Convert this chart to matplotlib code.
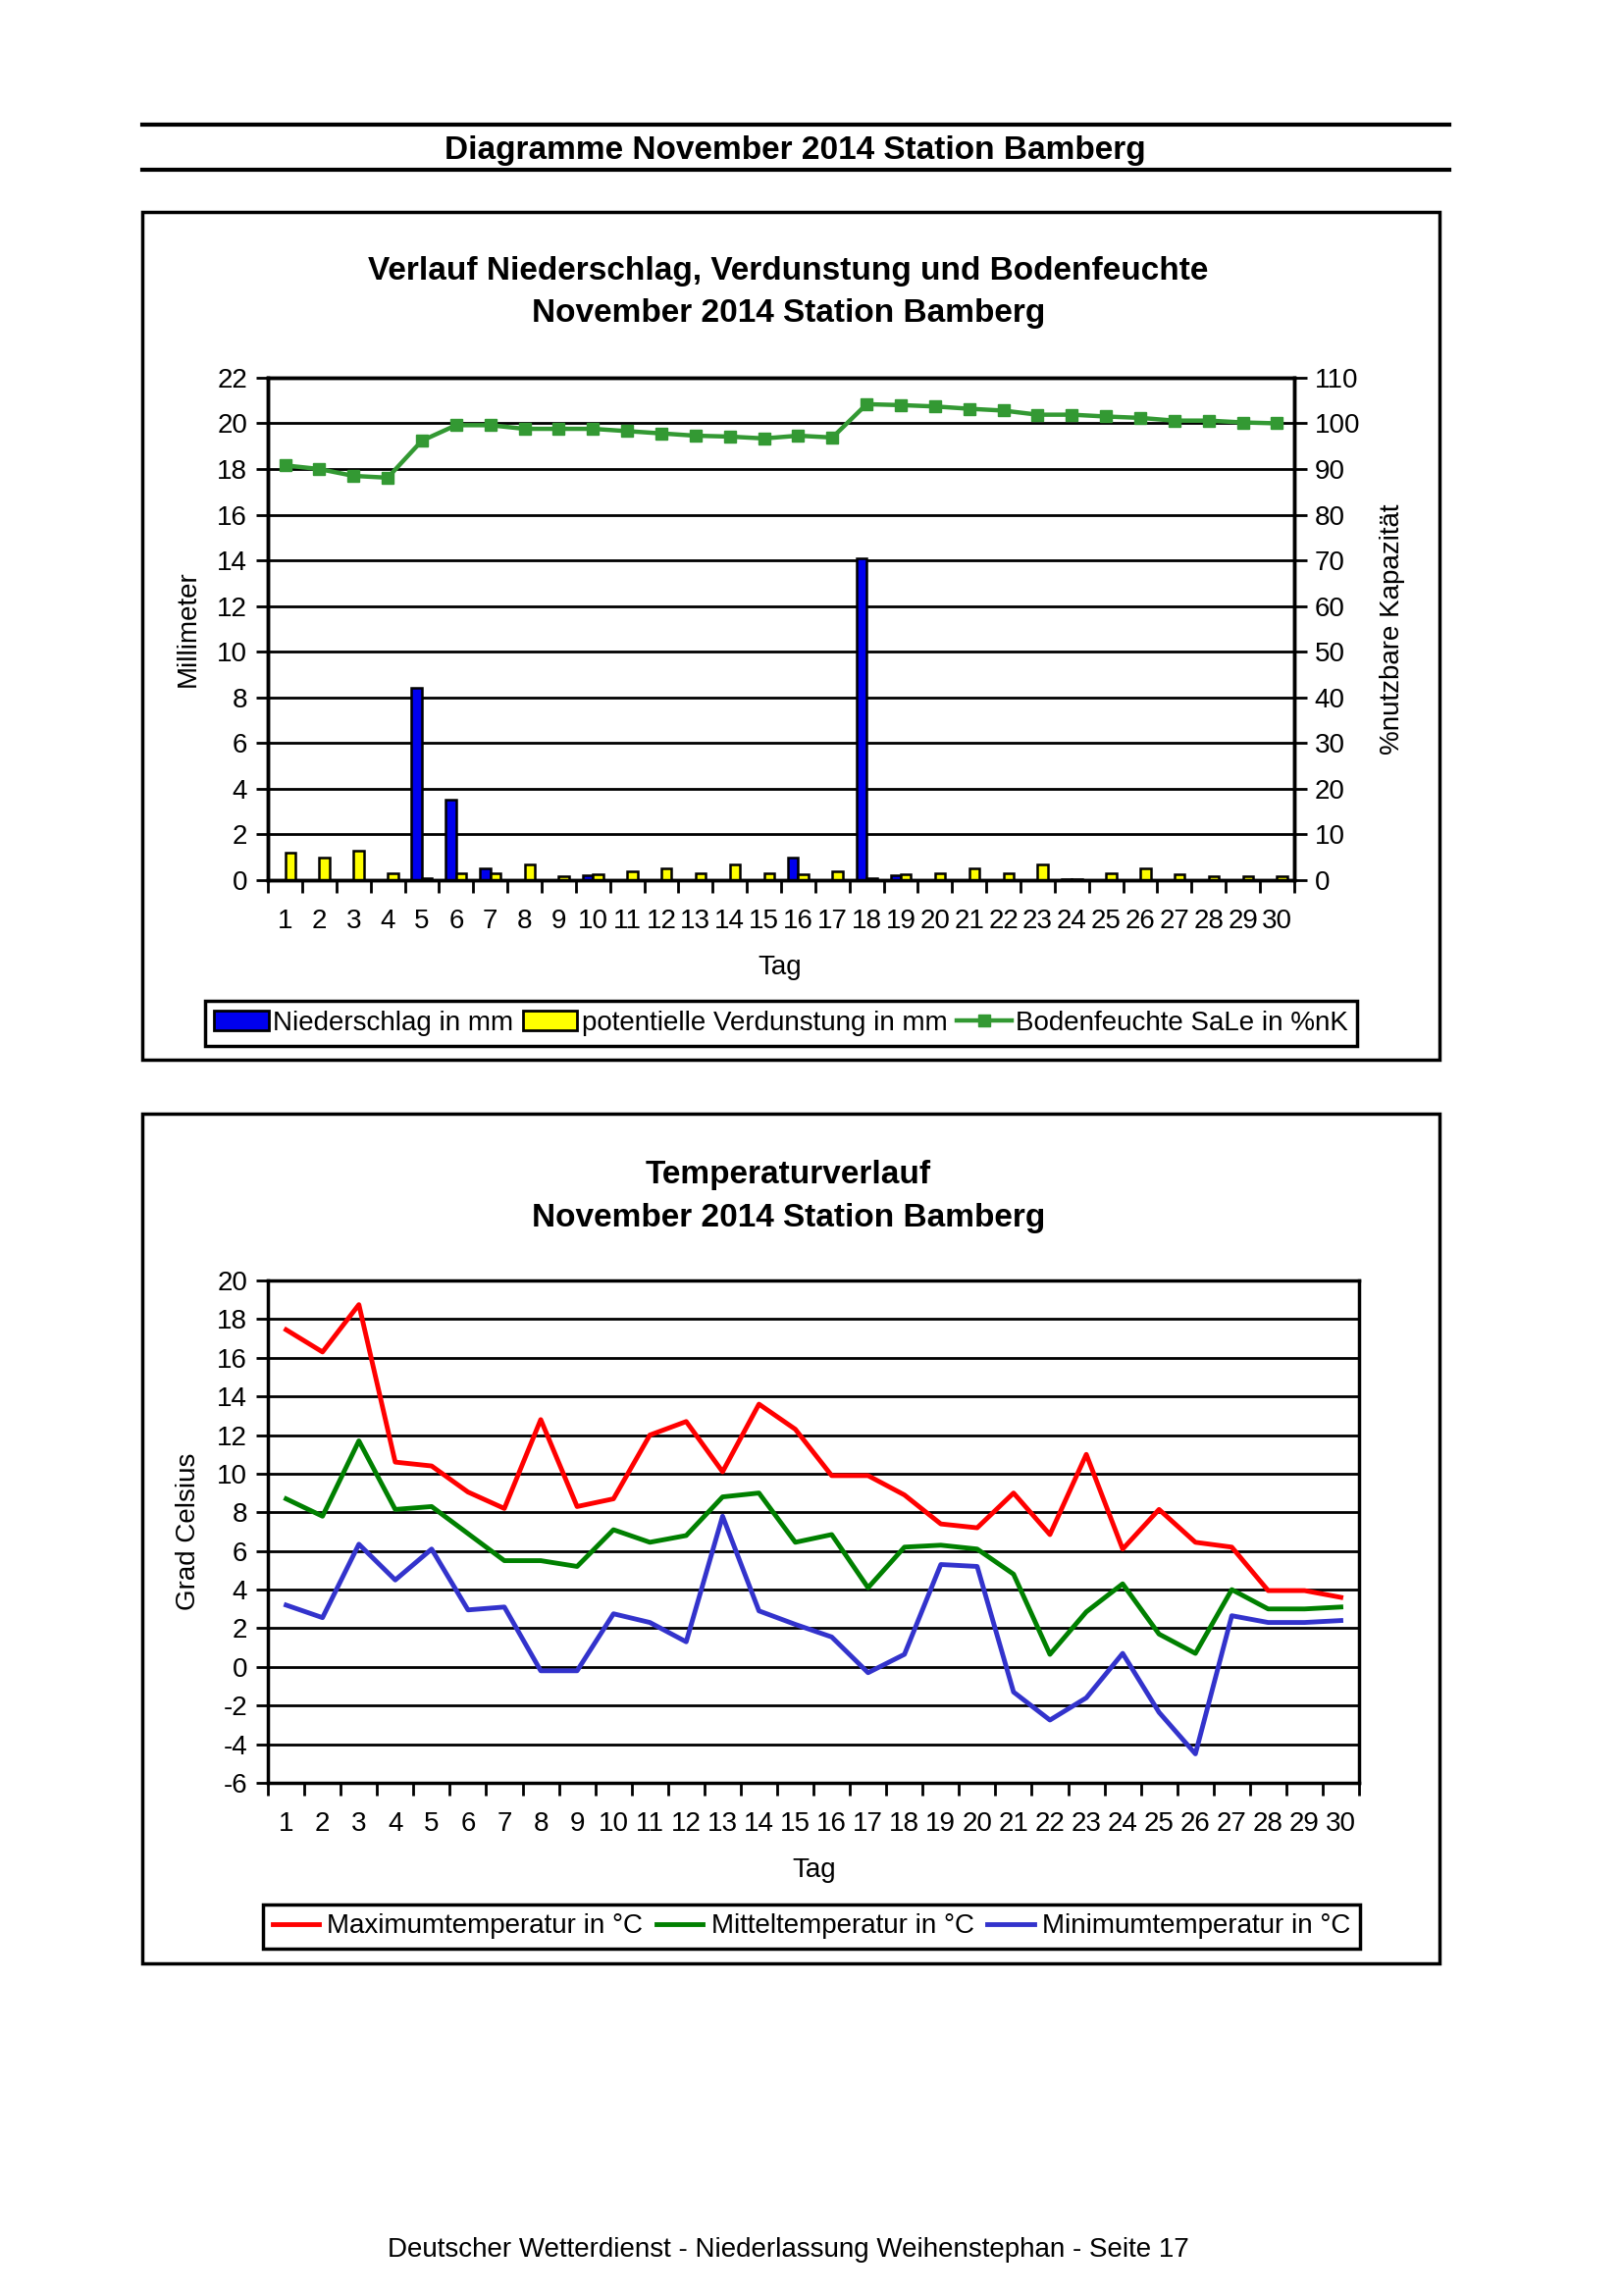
import matplotlib
matplotlib.use('Agg')
import matplotlib.pyplot as plt
from matplotlib.patches import Rectangle, Patch
from matplotlib.lines import Line2D
from matplotlib.ticker import FixedLocator
import numpy as np

plt.rcParams['font.family'] = ['Liberation Sans', 'DejaVu Sans']
plt.rcParams['axes.unicode_minus'] = False

days = list(range(1, 31))
day_labels = [str(d) for d in days]

niederschlag = [0, 0, 0, 0, 8.4, 3.5, 0.5, 0, 0, 0.2, 0, 0, 0, 0, 0, 1.0, 0, 14.1, 0.2, 0,
                0, 0, 0, 0.05, 0, 0, 0, 0, 0, 0]
verdunstung = [1.2, 1.0, 1.3, 0.3, 0.1, 0.3, 0.3, 0.7, 0.15, 0.25, 0.4, 0.5, 0.3, 0.7, 0.3,
               0.25, 0.4, 0.1, 0.25, 0.3, 0.5, 0.3, 0.7, 0.05, 0.3, 0.5, 0.25, 0.15, 0.15, 0.15]
bodenfeuchte = [90.8, 90.0, 88.5, 88.1, 96.2, 99.6, 99.6, 98.8, 98.8, 98.8, 98.3, 97.8, 97.3,
                97.1, 96.7, 97.3, 96.9, 104.2, 104.0, 103.7, 103.2, 102.8, 101.9, 101.9,
                101.5, 101.2, 100.6, 100.6, 100.2, 100.0]

tmax = [17.45, 16.3, 18.75, 10.6, 10.4, 9.05, 8.2, 12.8, 8.3, 8.7, 12.0, 12.7, 10.1, 13.6, 12.3,
        9.9, 9.9, 8.9, 7.4, 7.2, 9.0, 6.85, 11.0, 6.1, 8.15, 6.45, 6.2, 3.95, 3.95, 3.6]
tmit = [8.7, 7.8, 11.7, 8.15, 8.3, 6.9, 5.5, 5.5, 5.2, 7.1, 6.45, 6.8, 8.8, 9.0, 6.45, 6.85,
        4.1, 6.2, 6.3, 6.1, 4.8, 0.65, 2.85, 4.3, 1.7, 0.7, 4.0, 3.0, 3.0, 3.1]
tmin = [3.2, 2.55, 6.35, 4.5, 6.1, 2.95, 3.1, -0.2, -0.2, 2.75, 2.3, 1.3, 7.8, 2.9, 2.2, 1.55,
        -0.3, 0.65, 5.3, 5.2, -1.3, -2.75, -1.6, 0.7, -2.35, -4.5, 2.65, 2.3, 2.3, 2.4]

FS = 20
TFS = 24
fig = plt.figure(figsize=(16.53, 23.40), dpi=100)

# header
for yy in (0.9457, 0.9261):
    fig.add_artist(Line2D([0.0877, 0.8936], [yy, yy], transform=fig.transFigure,
                          color='black', lw=3))
fig.text(0.490, 0.9342, 'Diagramme November 2014 Station Bamberg', ha='center', va='center',
         fontsize=TFS, fontweight='bold')

# chart boxes
fig.add_artist(Rectangle((0.0877, 0.5385), 0.7998, 0.3692, transform=fig.transFigure,
                         fill=False, ec='black', lw=2.5))
fig.add_artist(Rectangle((0.0877, 0.1449), 0.7998, 0.3701, transform=fig.transFigure,
                         fill=False, ec='black', lw=2.5))


def style_axes(ax, ymin, ymax, ystep):
    x = np.arange(1, 31)
    ax.set_xlim(0.5, 30.5)
    ax.set_ylim(ymin, ymax)
    ax.set_xticks(x)
    ax.set_xticklabels(day_labels, fontsize=FS)
    ax.xaxis.set_minor_locator(FixedLocator(np.arange(0.5, 31, 1)))
    ax.tick_params(axis='x', which='major', length=0, pad=21)
    ax.tick_params(axis='x', which='minor', length=9, width=2, direction='out')
    ax.set_yticks(np.arange(ymin, ymax + 0.1, ystep))
    ax.tick_params(axis='y', length=9, width=2, direction='out', labelsize=FS, pad=6)
    ax.yaxis.grid(True, color='black', lw=2)
    ax.set_axisbelow(True)
    for s in ax.spines.values():
        s.set_linewidth(2.5)


# ---------------- top chart ----------------
fig.text(0.486, 0.8818, 'Verlauf Niederschlag, Verdunstung und Bodenfeuchte', ha='center',
         va='center', fontsize=TFS, fontweight='bold')
fig.text(0.486, 0.8633, 'November 2014 Station Bamberg', ha='center', va='center',
         fontsize=TFS, fontweight='bold')

ax1 = fig.add_axes([0.1652, 0.6167, 0.6327, 0.2188])
style_axes(ax1, 0, 22, 2)
x = np.arange(1, 31)
w = 0.3
ax1.bar(x - w / 2, niederschlag, width=w, color='#0000EE', edgecolor='black', lw=1.8, zorder=3)
ax1.bar(x + w / 2, verdunstung, width=w, color='#FFFF00', edgecolor='black', lw=1.8, zorder=3)
ax1.set_ylabel('Millimeter', fontsize=FS, labelpad=12)

ax1r = ax1.twinx()
ax1r.set_ylim(0, 110)
ax1r.set_yticks(np.arange(0, 111, 10))
ax1r.tick_params(axis='y', length=9, width=2, direction='out', labelsize=FS, pad=6)
ax1r.plot(x, bodenfeuchte, color='#339933', lw=3.2, marker='s', markersize=9, zorder=4)
ax1r.set_ylabel('%nutzbare Kapazität', fontsize=FS, rotation=90, labelpad=14)
for s in ax1r.spines.values():
    s.set_linewidth(2.5)

fig.text(0.481, 0.5785, 'Tag', ha='center', va='center', fontsize=FS)

h1 = [Patch(facecolor='#0000EE', edgecolor='black', lw=2),
      Patch(facecolor='#FFFF00', edgecolor='black', lw=2),
      Line2D([], [], color='#339933', lw=3.2, marker='s', markersize=9)]
l1 = ['Niederschlag in mm', 'potentielle Verdunstung in mm', 'Bodenfeuchte SaLe in %nK']
leg1 = fig.legend(h1, l1, ncol=3, loc='center', bbox_to_anchor=(0.4815, 0.5543),
                  bbox_transform=fig.transFigure, frameon=True, fancybox=False,
                  edgecolor='black', framealpha=1, fontsize=FS, handlelength=2.0,
                  handletextpad=0.15, columnspacing=0.35, borderpad=0.35, borderaxespad=0)
leg1.get_frame().set_linewidth(2.5)

# ---------------- bottom chart ----------------
fig.text(0.486, 0.4884, 'Temperaturverlauf', ha='center', va='center', fontsize=TFS,
         fontweight='bold')
fig.text(0.486, 0.4694, 'November 2014 Station Bamberg', ha='center', va='center',
         fontsize=TFS, fontweight='bold')

ax2 = fig.add_axes([0.1652, 0.2235, 0.6727, 0.2188])
style_axes(ax2, -6, 20, 2)
ax2.plot(x, tmax, color='#FF0000', lw=3.5, zorder=3)
ax2.plot(x, tmit, color='#008000', lw=3.5, zorder=3)
ax2.plot(x, tmin, color='#3333CC', lw=3.5, zorder=3)
ax2.set_ylabel('Grad Celsius', fontsize=FS, labelpad=12)

fig.text(0.502, 0.1853, 'Tag', ha='center', va='center', fontsize=FS)

h2 = [Line2D([], [], color='#FF0000', lw=3.5), Line2D([], [], color='#008000', lw=3.5),
      Line2D([], [], color='#3333CC', lw=3.5)]
l2 = ['Maximumtemperatur in °C', 'Mitteltemperatur in °C', 'Minimumtemperatur in °C']
leg2 = fig.legend(h2, l2, ncol=3, loc='center', bbox_to_anchor=(0.5003, 0.1609),
                  bbox_transform=fig.transFigure, frameon=True, fancybox=False,
                  edgecolor='black', framealpha=1, fontsize=FS, handlelength=1.7,
                  handletextpad=0.3, columnspacing=0.5, borderpad=0.35, borderaxespad=0)
leg2.get_frame().set_linewidth(2.5)

fig.text(0.486, 0.0200, 'Deutscher Wetterdienst - Niederlassung Weihenstephan - Seite 17',
         ha='center', va='center', fontsize=FS)

fig.savefig('out.png', dpi=100)
